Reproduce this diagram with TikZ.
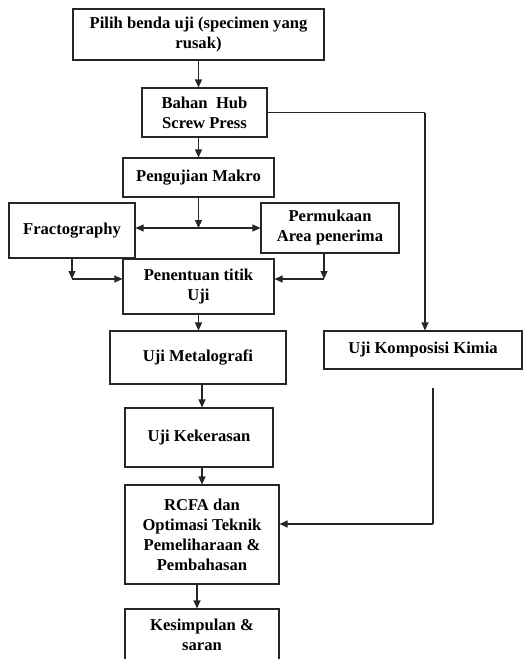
\documentclass[tikz,border=0pt]{standalone}
\usepackage{fontspec}
\setmainfont{Liberation Serif}
\usetikzlibrary{arrows.meta,calc}
\begin{document}
\begin{tikzpicture}[x=1pt,y=-1pt,
  box/.style={draw=black!85,line width=1.1pt,rectangle,align=center,inner sep=0pt,
    font=\bfseries\fontsize{16.6}{20}\selectfont},
  conn/.style={draw=black!85,line width=1.1pt},
  arr/.style={conn,-{Triangle[length=8pt,width=7pt]}},
  darr/.style={conn,{Triangle[length=8pt,width=7pt]}-{Triangle[length=8pt,width=7pt]}}]
\useasboundingbox (0,0) rectangle (532,659);
\clip (0,0) rectangle (532,659);
\node[box,minimum width=251,minimum height=51] (b1) at (198.5,34.5) {Pilih benda uji (specimen yang\\rusak)};
\node[box,minimum width=125,minimum height=49] (b2) at (204.5,112.5) {Bahan\ \ Hub\\Screw Press};
\node[box,minimum width=151,minimum height=39] (b3) at (198.5,177.5) {Pengujian Makro};
\node[box,minimum width=126,minimum height=55] (fr) at (72,230.5) {Fractography};
\node[box,minimum width=138,minimum height=50] (pe) at (330,228) {Permukaan\\Area penerima};
\node[box,minimum width=151,minimum height=55] (pen) at (198.5,286.5) {Penentuan titik\\Uji};
\node[box,minimum width=176,minimum height=53] (met) at (198,357.5) {Uji Metalografi};
\node[box,minimum width=198,minimum height=38] (kom) at (423,350) {Uji Komposisi Kimia};
\node[box,minimum width=148,minimum height=59] (kek) at (199,437.5) {Uji Kekerasan};
\node[box,minimum width=154,minimum height=99] (rc) at (202,534.5) {RCFA dan\\Optimasi Teknik\\Pemeliharaan \&\\Pembahasan};
\node[box,minimum width=154,minimum height=52] (kes) at (202,635) {Kesimpulan \&\\saran};
\coordinate (j) at (198.5,228);
\coordinate (cl) at (72,279);
\coordinate (cr) at (324,279);
\coordinate (rv) at (425,112.5);
\coordinate (ko) at (433,388);
\coordinate (kc) at (433,524);
\coordinate (x202) at (202,0);
\draw[arr] (b1.south) -- (b1.south |- b2.north);
\draw[arr] (b3.north |- b2.south) -- (b3.north);
\draw[conn] (b2.east) -- (rv);
\draw[arr] (rv) -- (rv |- kom.north);
\draw[arr] (b3.south) -- (j);
\draw[darr] (fr.east |- j) -- (pe.west |- j);
\draw[arr] (fr.south -| cl) -- (cl);
\draw[arr] (cl) -- (cl -| pen.west);
\draw[arr] (pe.south -| cr) -- (cr);
\draw[arr] (cr) -- (cr -| pen.east);
\draw[arr] (pen.south) -- (pen.south |- met.north);
\draw[arr] (x202 |- met.south) -- (x202 |- kek.north);
\draw[arr] (x202 |- kek.south) -- (x202 |- rc.north);
\draw[conn] (ko) -- (kc);
\draw[arr] (kc) -- (kc -| rc.east);
\draw[arr] (197,0 |- rc.south) -- (197,0 |- kes.north);
\end{tikzpicture}
\end{document}
